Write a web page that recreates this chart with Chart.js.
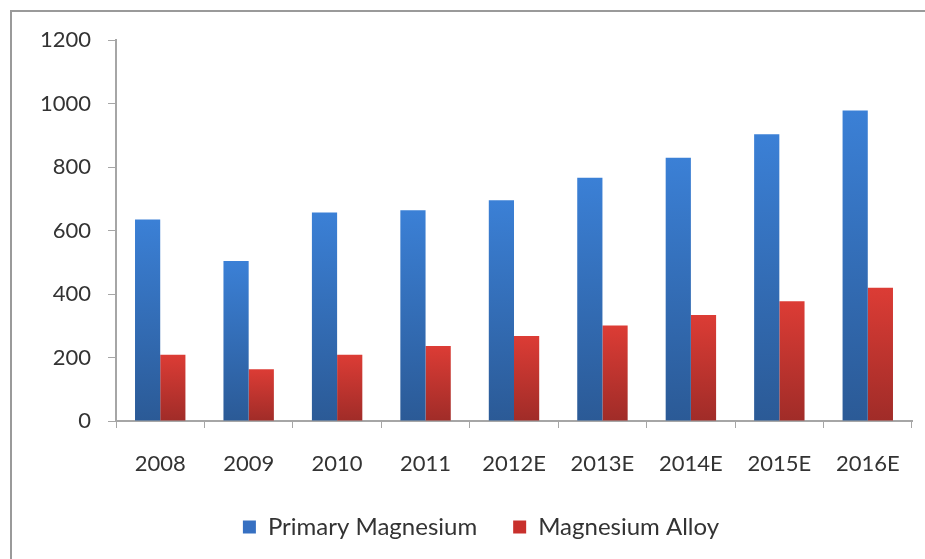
<!DOCTYPE html>
<html>
<head>
<meta charset="utf-8">
<script src="https://cdn.jsdelivr.net/npm/chart.js@4.4.0/dist/chart.umd.min.js"></script>
<style>
  html, body { margin: 0; padding: 0; background: #fff; }
  #wrap { position: relative; width: 925px; height: 559px; }
</style>
</head>
<body>
<div id="wrap"><canvas id="magChart" width="925" height="559"></canvas></div>
<script>
// data
const years = ['2008', '2009', '2010', '2011', '2012E', '2013E', '2014E', '2015E', '2016E'];
const primaryMagnesium = [635, 504, 657, 664, 695, 766, 829, 903, 978];
const magnesiumAlloy = [209, 163, 209, 236, 268, 301, 334, 377, 420];
const yTicks = [0, 200, 400, 600, 800, 1000, 1200];

const FONT = 'Lato, Calibri, "Open Sans", sans-serif';
const TEXT = '#333';
const AXIS = '#a6a6a6';

// vertical gradient per bar: light at the bar top, dark at the baseline
function barFill(top, bottom) {
  return (c) => {
    const chart = c.chart;
    const area = chart.chartArea;
    if (!area || c.raw == null) return bottom;
    const yTop = chart.scales.y.getPixelForValue(c.raw);
    const g = chart.ctx.createLinearGradient(0, yTop, 0, area.bottom);
    g.addColorStop(0, top);
    g.addColorStop(1, bottom);
    return g;
  };
}

// grey frame on top/left like the source screenshot
const framePlugin = {
  id: 'frame',
  beforeDraw(chart) {
    const ctx = chart.ctx;
    ctx.save();
    ctx.strokeStyle = '#9a9a9a';
    ctx.lineWidth = 2;
    ctx.beginPath();
    ctx.moveTo(11, chart.height);
    ctx.lineTo(11, 11);
    ctx.lineTo(chart.width, 11);
    ctx.stroke();
    ctx.restore();
  }
};

// legend in the source sits a bit right of the canvas centre
const legendShift = {
  id: 'legendShift',
  afterLayout(chart) {
    if (chart.legend) {
      chart.legend.left += 25;
      chart.legend.right += 25;
    }
  }
};

const legendColors = ['#3670c2', '#c8302c'];

new Chart(document.getElementById('magChart'), {
  type: 'bar',
  data: {
    labels: years,
    datasets: [
      {
        label: 'Primary Magnesium',
        data: primaryMagnesium,
        backgroundColor: barFill('#3b80d6', '#2b5a96'),
        barPercentage: 1,
        categoryPercentage: 0.57
      },
      {
        label: 'Magnesium Alloy',
        data: magnesiumAlloy,
        backgroundColor: barFill('#dc3c35', '#a02c28'),
        barPercentage: 1,
        categoryPercentage: 0.57
      }
    ]
  },
  options: {
    responsive: false,
    animation: false,
    layout: { padding: { top: 40, right: 13, left: 0, bottom: 10 } },
    plugins: {
      legend: {
        position: 'bottom',
        labels: {
          font: { family: FONT, size: 24 },
          color: TEXT,
          boxWidth: 13,
          boxHeight: 13,
          padding: 36,
          generateLabels(chart) {
            return chart.data.datasets.map((ds, i) => ({
              text: ds.label,
              fillStyle: legendColors[i],
              strokeStyle: legendColors[i],
              lineWidth: 0,
              fontColor: TEXT,
              datasetIndex: i,
              hidden: false
            }));
          }
        }
      },
      tooltip: { enabled: false }
    },
    scales: {
      x: {
        grid: {
          display: true,
          drawOnChartArea: false,
          drawTicks: true,
          tickLength: 7,
          color: AXIS,
          offset: true
        },
        border: { color: AXIS, width: 2 },
        ticks: {
          font: { family: FONT, size: 22 },
          color: TEXT,
          padding: 23
        },
        afterFit(s) { s.height = 58; }
      },
      y: {
        min: 0,
        max: 1200,
        afterBuildTicks(s) { s.ticks = yTicks.map(v => ({ value: v })); },
        grid: {
          display: true,
          drawOnChartArea: false,
          drawTicks: true,
          tickLength: 8,
          color: AXIS
        },
        border: { color: AXIS, width: 2 },
        ticks: {
          font: { family: FONT, size: 22 },
          color: TEXT,
          padding: 17,
          callback: v => String(v)
        },
        afterFit(s) { s.width = 116; }
      }
    }
  },
  plugins: [framePlugin, legendShift]
});
</script>
</body>
</html>
